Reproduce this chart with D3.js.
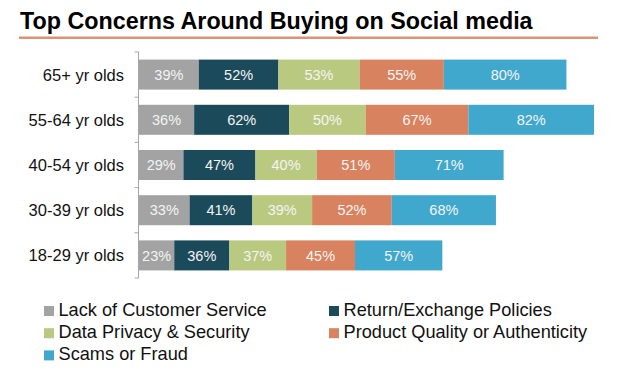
<!DOCTYPE html>
<html>
<head>
<meta charset="utf-8">
<script src="https://d3js.org/d3.v7.min.js"></script>
<style>
  body { margin: 0; background: #fff; }
  text { font-family: "Liberation Sans", Arial, sans-serif; }
</style>
</head>
<body>
<div id="chart"></div>
<script>
// age groups, top to bottom
const ageGroups = ["65+ yr olds", "55-64 yr olds", "40-54 yr olds", "30-39 yr olds", "18-29 yr olds"];

// concern series (stack order left to right)
const concerns = ["Lack of Customer Service", "Return/Exchange Policies", "Data Privacy & Security",
                  "Product Quality or Authenticity", "Scams or Fraud"];
const colors = ["#a3a3a3", "#1b4a5a", "#b9c97f", "#d8825f", "#41a8cd"];

// values in %, one array per concern, same order as ageGroups
const customerService = [39, 36, 29, 33, 23];
const returnPolicies  = [52, 62, 47, 41, 36];
const dataPrivacy     = [53, 50, 40, 39, 37];
const productQuality  = [55, 67, 51, 52, 45];
const scamsFraud      = [80, 82, 71, 68, 57];

const seriesValues = [customerService, returnPolicies, dataPrivacy, productQuality, scamsFraud];

// build table for d3.stack
const table = ageGroups.map((g, i) => {
    const row = { group: g };
    concerns.forEach((c, j) => { row[c] = seriesValues[j][i]; });
    return row;
});

const W = 620, H = 376;
const svg = d3.select("#chart").append("svg")
    .attr("width", W)
    .attr("height", H);

// title + rule
svg.append("text")
    .attr("x", 20)
    .attr("y", 28.5)
    .style("font-size", "23.3px")
    .style("font-weight", "bold")
    .attr("fill", "#000")
    .text("Top Concerns Around Buying on Social media");

svg.append("line")
    .attr("x1", 19).attr("x2", 598)
    .attr("y1", 37.8).attr("y2", 37.8)
    .attr("stroke", "#dc9274")
    .attr("stroke-width", 2.5);

// scales
const x = d3.scaleLinear()
    .domain([0, 297])
    .range([139, 594]);

const y = d3.scaleBand()
    .domain(ageGroups)
    .range([52, 278])
    .paddingInner(0.336)
    .paddingOuter(0.168);

const stack = d3.stack().keys(concerns);
const stacked = stack(table);

// bars
const layers = svg.append("g").selectAll("g")
    .data(stacked)
    .join("g")
    .attr("fill", (d, i) => colors[i]);

layers.selectAll("rect")
    .data(d => d)
    .join("rect")
    .attr("x", d => x(d[0]))
    .attr("y", d => y(d.data.group))
    .attr("width", d => x(d[1]) - x(d[0]))
    .attr("height", y.bandwidth());

// value labels
layers.selectAll("text")
    .data(d => d.map(v => ({ v: v, key: d.key })))
    .join("text")
    .attr("x", d => (x(d.v[0]) + x(d.v[1])) / 2)
    .attr("y", d => y(d.v.data.group) + y.bandwidth() / 2)
    .attr("dy", "0.36em")
    .attr("text-anchor", "middle")
    .attr("fill", "#f4f4f4")
    .style("font-size", "14.5px")
    .text(d => d.v.data[d.key] + "%");

// left axis: line with ticks at band boundaries
const axis = svg.append("g");
const half = (y.step() - y.bandwidth()) / 2;
const bounds = ageGroups.map(g => y(g) - half).concat([y(ageGroups[ageGroups.length - 1]) + y.bandwidth() + half]);

axis.append("line")
    .attr("x1", 138.5).attr("x2", 138.5)
    .attr("y1", bounds[0]).attr("y2", bounds[bounds.length - 1])
    .attr("stroke", "#a6a6a6");

axis.selectAll(".tick")
    .data(bounds)
    .join("line")
    .attr("class", "tick")
    .attr("x1", 134.5).attr("x2", 138.5)
    .attr("y1", d => d).attr("y2", d => d)
    .attr("stroke", "#a6a6a6");

axis.selectAll(".lbl")
    .data(ageGroups)
    .join("text")
    .attr("class", "lbl")
    .attr("x", 124)
    .attr("y", d => y(d) + y.bandwidth() / 2)
    .attr("dy", "0.36em")
    .attr("text-anchor", "end")
    .attr("fill", "#111")
    .style("font-size", "16.5px")
    .text(d => d);

// legend, two columns
const legend = svg.append("g").selectAll("g")
    .data(concerns)
    .join("g")
    .attr("transform", (d, i) => `translate(${i % 2 === 0 ? 44 : 329},${316 + Math.floor(i / 2) * 22.2})`);

legend.append("rect")
    .attr("x", 0)
    .attr("y", -10)
    .attr("width", 10)
    .attr("height", 10)
    .attr("fill", (d, i) => colors[i]);

legend.append("text")
    .attr("x", 14.5)
    .attr("y", 0)
    .attr("fill", "#111")
    .style("font-size", "18.2px")
    .text(d => d);
</script>
</body>
</html>
